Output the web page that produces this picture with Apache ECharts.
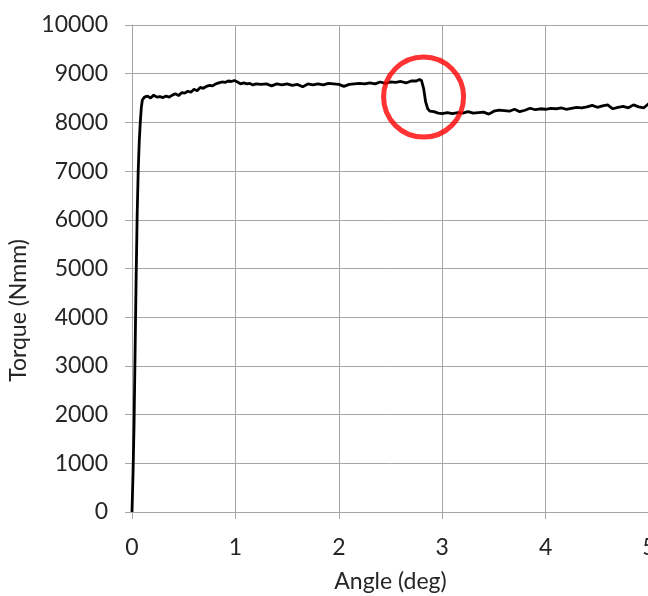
<!DOCTYPE html>
<html><head><meta charset="utf-8">
<script src="https://cdn.jsdelivr.net/npm/echarts@6/dist/echarts.min.js"></script>
<style>html,body{margin:0;padding:0;background:#fff;overflow:hidden}#c{width:648px;height:596px}</style>
</head><body><div id="c"></div>
<script>
const angle = [0,0.01,0.02,0.03,0.04,0.05,0.06,0.07,0.08,0.09,0.10,0.12,0.15,0.18,0.21,0.24,0.27,0.30,0.33,0.36,0.39,0.42,0.45,0.48,0.51,0.54,0.57,0.60,0.63,0.66,0.69,0.72,0.75,0.78,0.81,0.84,0.87,0.90,0.93,0.96,0.99,1.02,1.05,1.08,1.11,1.14,1.17,1.20,1.25,1.30,1.35,1.40,1.45,1.50,1.55,1.60,1.65,1.70,1.75,1.80,1.85,1.90,1.95,2.00,2.05,2.10,2.15,2.20,2.25,2.30,2.35,2.40,2.45,2.50,2.55,2.60,2.65,2.70,2.75,2.78,2.80,2.82,2.84,2.86,2.88,2.92,2.96,3.00,3.05,3.10,3.15,3.20,3.25,3.30,3.35,3.40,3.45,3.50,3.55,3.60,3.65,3.70,3.75,3.80,3.85,3.90,3.95,4.00,4.05,4.10,4.15,4.20,4.25,4.30,4.35,4.40,4.45,4.50,4.55,4.60,4.65,4.70,4.75,4.80,4.85,4.90,4.95,5.00];
const torque = [0,800,1800,3300,4800,6100,7000,7600,8000,8300,8460,8520,8540,8500,8560,8520,8530,8510,8540,8520,8560,8590,8550,8610,8600,8640,8620,8680,8650,8720,8700,8740,8760,8750,8790,8810,8830,8820,8850,8840,8860,8830,8790,8810,8790,8800,8770,8790,8780,8790,8750,8790,8770,8790,8760,8780,8730,8790,8770,8790,8770,8800,8790,8780,8740,8780,8790,8800,8790,8810,8790,8830,8800,8830,8820,8840,8810,8850,8850,8880,8860,8700,8420,8280,8230,8220,8190,8180,8200,8180,8200,8190,8220,8190,8200,8210,8170,8230,8250,8240,8230,8270,8220,8250,8290,8260,8280,8270,8290,8280,8300,8270,8290,8310,8300,8320,8350,8310,8340,8360,8280,8310,8330,8300,8360,8320,8300,8390,8470,8520];
const xTicks = [0,1,2,3,4,5];
const highlight = [[2.82, 8520]];

const data = angle.map((a,i)=>[a, torque[i]]);
const font = 'Lato, "Open Sans", sans-serif';
const chart = echarts.init(document.getElementById('c'), null, {renderer:'canvas', width:648, height:596});
chart.setOption({
  animation:false,
  grid:{left:132, right:-1, top:25, bottom:84, containLabel:false, outerBoundsMode:'none'},
  xAxis:{type:'value', min:0, max:5, interval:1,
    name:'Angle (deg)', nameLocation:'middle', nameGap:58,
    nameTextStyle:{fontFamily:font, fontSize:23, color:'#262626'},
    axisLine:{show:true, lineStyle:{color:'#a6a6a6', width:1}},
    axisTick:{show:true, length:7, lineStyle:{color:'#a6a6a6'}},
    axisLabel:{fontFamily:font, fontSize:23, color:'#262626', margin:24},
    splitLine:{show:true, lineStyle:{color:'#a6a6a6', width:1}}},
  yAxis:{type:'value', min:0, max:10000, interval:1000,
    name:'Torque (Nmm)', nameLocation:'middle', nameGap:89, nameRotate:90,
    nameTextStyle:{fontFamily:font, fontSize:23, color:'#262626', padding:[0,84,0,0]},
    axisLine:{show:true, lineStyle:{color:'#a6a6a6', width:1}},
    axisTick:{show:true, length:7, lineStyle:{color:'#a6a6a6'}},
    axisLabel:{fontFamily:font, fontSize:23, color:'#262626', margin:24,
      formatter:function(v){return String(v);}},
    splitLine:{show:true, lineStyle:{color:'#a6a6a6', width:1}}},
  series:[
    {type:'line', data:data, showSymbol:false, smooth:false,
     lineStyle:{color:'#000', width:2.8}},
    {type:'scatter', data:highlight, symbol:'circle', symbolSize:80,
     itemStyle:{color:'rgba(0,0,0,0)', borderColor:'#ff0000', borderWidth:5}, z:5}
  ]
});
</script></body></html>
